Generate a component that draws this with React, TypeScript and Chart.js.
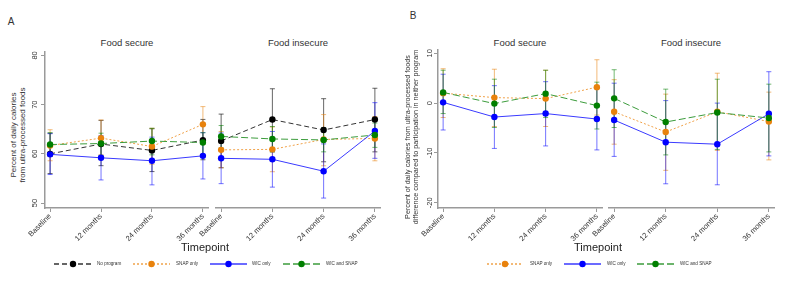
import React, { useEffect, useRef } from "react";
import { Chart, registerables } from "chart.js";
Chart.register(...registerables);

const FONT = '"Liberation Sans", Arial, sans-serif';

const timepoints = ["Baseline", "12 months", "24 months", "36 months"];
const yTicksA = [50, 60, 70, 80];
const yTicksB = [-20, -10, 0, 10];

// Panel A, Food secure (percent of daily calories from UPF, with 95% CI)
const noProgramSecure = [60.0, 62.0, 60.7, 62.8];
const noProgramSecureLo = [56.0, 57.6, 56.4, 58.8];
const noProgramSecureHi = [64.2, 66.8, 65.1, 67.0];
const snapSecure = [61.7, 63.2, 61.5, 66.0];
const snapSecureLo = [58.6, 59.8, 57.9, 62.0];
const snapSecureHi = [64.9, 66.9, 65.2, 69.6];
const wicSecure = [59.9, 59.2, 58.6, 59.6];
const wicSecureLo = [55.8, 54.7, 53.7, 54.9];
const wicSecureHi = [64.1, 63.7, 63.4, 64.3];
const bothSecure = [61.9, 62.1, 62.6, 62.3];
const bothSecureLo = [59.5, 59.7, 59.8, 59.5];
const bothSecureHi = [64.3, 64.2, 65.2, 64.3];

// Panel A, Food insecure
const noProgramInsecure = [62.5, 66.8, 64.7, 66.8];
const noProgramInsecureLo = [57.1, 60.3, 58.3, 60.3];
const noProgramInsecureHi = [67.9, 73.0, 71.0, 73.1];
const snapInsecure = [60.7, 60.8, 62.8, 63.0];
const snapInsecureLo = [57.1, 56.3, 57.5, 58.5];
const snapInsecureHi = [64.4, 65.3, 67.8, 67.4];
const wicInsecure = [59.0, 58.8, 56.4, 64.5];
const wicInsecureLo = [53.9, 53.2, 51.0, 59.0];
const wicInsecureHi = [64.1, 64.4, 61.9, 70.2];
const bothInsecure = [63.4, 62.9, 62.7, 63.7];
const bothInsecureLo = [61.1, 60.3, 60.3, 61.2];
const bothInsecureHi = [65.6, 65.4, 65.2, 66.1];

// Panel B, Food secure (difference vs. neither program)
const snapDiffSecure = [2.0, 1.1, 0.9, 3.2];
const snapDiffSecureLo = [-2.9, -4.7, -4.7, -2.4];
const snapDiffSecureHi = [6.9, 6.8, 6.6, 8.7];
const wicDiffSecure = [0.15, -2.8, -2.1, -3.2];
const wicDiffSecureLo = [-5.4, -9.1, -8.6, -9.4];
const wicDiffSecureHi = [5.8, 3.5, 4.3, 3.0];
const bothDiffSecure = [2.15, -0.1, 1.9, -0.5];
const bothDiffSecureLo = [-2.1, -4.9, -2.9, -5.2];
const bothDiffSecureHi = [6.6, 4.8, 6.6, 4.2];

// Panel B, Food insecure
const snapDiffInsecure = [-1.75, -5.8, -1.75, -3.7];
const snapDiffInsecureLo = [-8.25, -13.5, -9.5, -11.4];
const snapDiffInsecureHi = [4.7, 1.8, 6.0, 2.2];
const wicDiffInsecure = [-3.4, -7.85, -8.25, -2.15];
const wicDiffInsecureLo = [-10.7, -16.2, -16.4, -10.6];
const wicDiffInsecureHi = [4.0, 0.5, 0.0, 6.3];
const bothDiffInsecure = [0.95, -3.8, -1.9, -3.0];
const bothDiffInsecureLo = [-4.9, -10.4, -9.3, -9.8];
const bothDiffInsecureHi = [6.7, 2.8, 4.8, 3.8];

const STYLES: Record<string, any> = {
  "No program": { marker: "#000000", line: "#333333", bar: "rgba(0,0,0,0.6)", dash: [5, 3], order: 3 },
  "SNAP only": { marker: "#E8820C", line: "#F0A24A", bar: "rgba(232,130,12,0.55)", dash: [2, 2], order: 2 },
  "WIC only": { marker: "#0000FF", line: "#3A3AFF", bar: "rgba(0,0,255,0.55)", dash: [], order: 1 },
  "WIC and SNAP": { marker: "#007F00", line: "#3C9C3C", bar: "rgba(0,128,0,0.55)", dash: [7, 3], order: 0 },
};

type Series = { name: string; v: number[]; lo: number[]; hi: number[] };

const errorBarPlugin = {
  id: "errorBars",
  beforeDatasetsDraw(chart: any) {
    const ctx = chart.ctx;
    const xs = chart.scales.x;
    const ys = chart.scales.y;
    chart.data.datasets.forEach((ds: any) => {
      if (!ds.lo) return;
      ctx.save();
      ctx.strokeStyle = ds.barColor;
      ctx.lineWidth = 1;
      ds.lo.forEach((l: number, i: number) => {
        const px = xs.getPixelForValue(i);
        const pl = ys.getPixelForValue(l);
        const ph = ys.getPixelForValue(ds.hi[i]);
        ctx.beginPath();
        ctx.moveTo(px, pl);
        ctx.lineTo(px, ph);
        ctx.moveTo(px - 2.5, pl);
        ctx.lineTo(px + 2.5, pl);
        ctx.moveTo(px - 2.5, ph);
        ctx.lineTo(px + 2.5, ph);
        ctx.stroke();
      });
      ctx.restore();
    });
  },
};

type FacetProps = {
  series: Series[];
  left: number;
  top: number;
  width: number;
  height: number;
  padLeft: number;
  showY: boolean;
  yMin: number;
  yMax: number;
  yTicks: number[];
  yTickPad: number;
};

function Facet(p: FacetProps) {
  const ref = useRef<HTMLCanvasElement | null>(null);
  useEffect(() => {
    if (!ref.current) return;
    const yScale: any = {
      type: "linear",
      min: p.yMin,
      max: p.yMax,
      display: p.showY,
      afterBuildTicks: (s: any) => {
        s.ticks = p.yTicks.map((v) => ({ value: v }));
      },
      grid: { drawOnChartArea: false, tickLength: 4, color: "#9a9a9a", lineWidth: 1 },
      border: { color: "#9a9a9a", width: 1.5 },
      ticks: {
        minRotation: 90,
        maxRotation: 90,
        crossAlign: "center",
        padding: p.yTickPad,
        color: "#333",
        font: { family: FONT, size: 7.5 },
      },
    };
    if (p.showY) yScale.afterFit = (s: any) => { s.width = 45; };
    const chart = new Chart(ref.current, {
      type: "line",
      data: {
        datasets: p.series.map((s) => {
          const st = STYLES[s.name];
          return {
            label: s.name,
            data: s.v.map((v, i) => ({ x: i, y: v })),
            borderColor: st.line,
            borderWidth: 1,
            borderDash: st.dash,
            pointBackgroundColor: st.marker,
            pointBorderColor: st.marker,
            pointRadius: 3.2,
            pointBorderWidth: 0,
            pointHoverRadius: 3.2,
            tension: 0,
            fill: false,
            order: st.order,
            lo: s.lo,
            hi: s.hi,
            barColor: st.bar,
          } as any;
        }),
      },
      options: {
        animation: false,
        responsive: false,
        events: [],
        layout: { padding: { left: p.padLeft, right: 5, top: 5, bottom: 0 } },
        plugins: { legend: { display: false }, tooltip: { enabled: false } },
        scales: {
          x: {
            type: "linear",
            min: -0.1,
            max: 3.1,
            afterBuildTicks: (s: any) => {
              s.ticks = timepoints.map((_, i) => ({ value: i }));
            },
            afterFit: (s: any) => { s.height = 50; },
            grid: { drawOnChartArea: false, tickLength: 4, color: "#9a9a9a", lineWidth: 1 },
            border: { color: "#9a9a9a", width: 1.5 },
            ticks: {
              autoSkip: false,
              minRotation: 45,
              maxRotation: 45,
              padding: 0,
              color: "#333",
              font: { family: FONT, size: 7.5 },
              callback: (v: any) => timepoints[Math.round(Number(v))] ?? "",
            },
          },
          y: yScale,
        },
      },
      plugins: [errorBarPlugin],
    });
    return () => chart.destroy();
  }, []);
  return (
    <canvas
      ref={ref}
      width={p.width}
      height={p.height}
      style={{ position: "absolute", left: p.left, top: p.top, width: p.width, height: p.height }}
    />
  );
}

function Txt(props: { x: number; y: number; size: number; text: string; rotate?: boolean; anchor?: string; color?: string }) {
  const tr = props.anchor === "left" ? "translate(0,-50%)" : "translate(-50%,-50%)";
  return (
    <div
      style={{
        position: "absolute",
        left: props.x,
        top: props.y,
        transform: tr + (props.rotate ? " rotate(-90deg)" : ""),
        fontFamily: FONT,
        fontSize: props.size,
        color: props.color ?? "#333",
        whiteSpace: "nowrap",
        lineHeight: 1,
      }}
    >
      {props.text}
    </div>
  );
}

function LegendItem(props: { name: string; x0: number; x1: number; tx: number; y: number }) {
  const st = STYLES[props.name];
  const w = props.x1 - props.x0;
  return (
    <>
      <svg
        width={w}
        height={8}
        style={{ position: "absolute", left: props.x0, top: props.y - 4 }}
      >
        <line
          x1={0}
          y1={4}
          x2={w}
          y2={4}
          stroke={st.line}
          strokeWidth={1.3}
          strokeDasharray={st.dash.length ? st.dash.join(",") : undefined}
        />
        <circle cx={w / 2} cy={4} r={3.2} fill={st.marker} />
      </svg>
      <Txt x={props.tx} y={props.y} size={4.6} text={props.name} anchor="left" />
    </>
  );
}

const seriesAS: Series[] = [
  { name: "No program", v: noProgramSecure, lo: noProgramSecureLo, hi: noProgramSecureHi },
  { name: "SNAP only", v: snapSecure, lo: snapSecureLo, hi: snapSecureHi },
  { name: "WIC only", v: wicSecure, lo: wicSecureLo, hi: wicSecureHi },
  { name: "WIC and SNAP", v: bothSecure, lo: bothSecureLo, hi: bothSecureHi },
];
const seriesAI: Series[] = [
  { name: "No program", v: noProgramInsecure, lo: noProgramInsecureLo, hi: noProgramInsecureHi },
  { name: "SNAP only", v: snapInsecure, lo: snapInsecureLo, hi: snapInsecureHi },
  { name: "WIC only", v: wicInsecure, lo: wicInsecureLo, hi: wicInsecureHi },
  { name: "WIC and SNAP", v: bothInsecure, lo: bothInsecureLo, hi: bothInsecureHi },
];
const seriesBS: Series[] = [
  { name: "SNAP only", v: snapDiffSecure, lo: snapDiffSecureLo, hi: snapDiffSecureHi },
  { name: "WIC only", v: wicDiffSecure, lo: wicDiffSecureLo, hi: wicDiffSecureHi },
  { name: "WIC and SNAP", v: bothDiffSecure, lo: bothDiffSecureLo, hi: bothDiffSecureHi },
];
const seriesBI: Series[] = [
  { name: "SNAP only", v: snapDiffInsecure, lo: snapDiffInsecureLo, hi: snapDiffInsecureHi },
  { name: "WIC only", v: wicDiffInsecure, lo: wicDiffInsecureLo, hi: wicDiffInsecureHi },
  { name: "WIC and SNAP", v: bothDiffInsecure, lo: bothDiffInsecureLo, hi: bothDiffInsecureHi },
];

export default function App() {
  return (
    <div style={{ position: "fixed", left: 0, top: 0, width: 787, height: 287, background: "#fff", overflow: "hidden" }}>
      {/* Panel A */}
      <Txt x={11} y={22} size={10} text="A" />
      <Txt x={127} y={43} size={9.5} text="Food secure" />
      <Txt x={298} y={43} size={9.5} text="Food insecure" />
      <Txt x={14} y={135} size={8} text="Percent of daily calories" rotate />
      <Txt x={23} y={135} size={8} text="from ultra-processed foods" rotate />
      <Facet series={seriesAS} left={0} top={45} width={213} height={213} padLeft={0} showY yMin={49} yMax={80.8} yTicks={yTicksA} yTickPad={2} />
      <Facet series={seriesAI} left={176} top={45} width={209} height={213} padLeft={40} showY={false} yMin={49} yMax={80.8} yTicks={yTicksA} yTickPad={2} />
      <Txt x={205} y={247} size={11} text="Timepoint" color="#222" />
      <LegendItem name="No program" x0={54} x1={92} tx={97} y={264} />
      <LegendItem name="SNAP only" x0={133} x1={170} tx={176} y={264} />
      <LegendItem name="WIC only" x0={210} x1={247} tx={252} y={264} />
      <LegendItem name="WIC and SNAP" x0={283} x1={320} tx={326} y={264} />

      {/* Panel B */}
      <Txt x={413} y={16} size={10} text="B" />
      <Txt x={520} y={43} size={9.5} text="Food secure" />
      <Txt x={691} y={43} size={9.5} text="Food insecure" />
      <Txt x={408} y={137} size={7.2} text="Percent of daily calories from ultra-processed foods" rotate />
      <Txt x={416} y={137} size={7.2} text="difference compared to participation in neither program" rotate />
      <Facet series={seriesBS} left={393} top={45} width={214} height={213} padLeft={0} showY yMin={-21.06} yMax={10.66} yTicks={yTicksB} yTickPad={-1.5} />
      <Facet series={seriesBI} left={569} top={45} width={210} height={213} padLeft={40} showY={false} yMin={-21.06} yMax={10.66} yTicks={yTicksB} yTickPad={-1.5} />
      <Txt x={598} y={247} size={11} text="Timepoint" color="#222" />
      <LegendItem name="SNAP only" x0={487} x1={523} tx={530} y={264} />
      <LegendItem name="WIC only" x0={564} x1={601} tx={607} y={264} />
      <LegendItem name="WIC and SNAP" x0={637} x1={674} tx={680} y={264} />
    </div>
  );
}
